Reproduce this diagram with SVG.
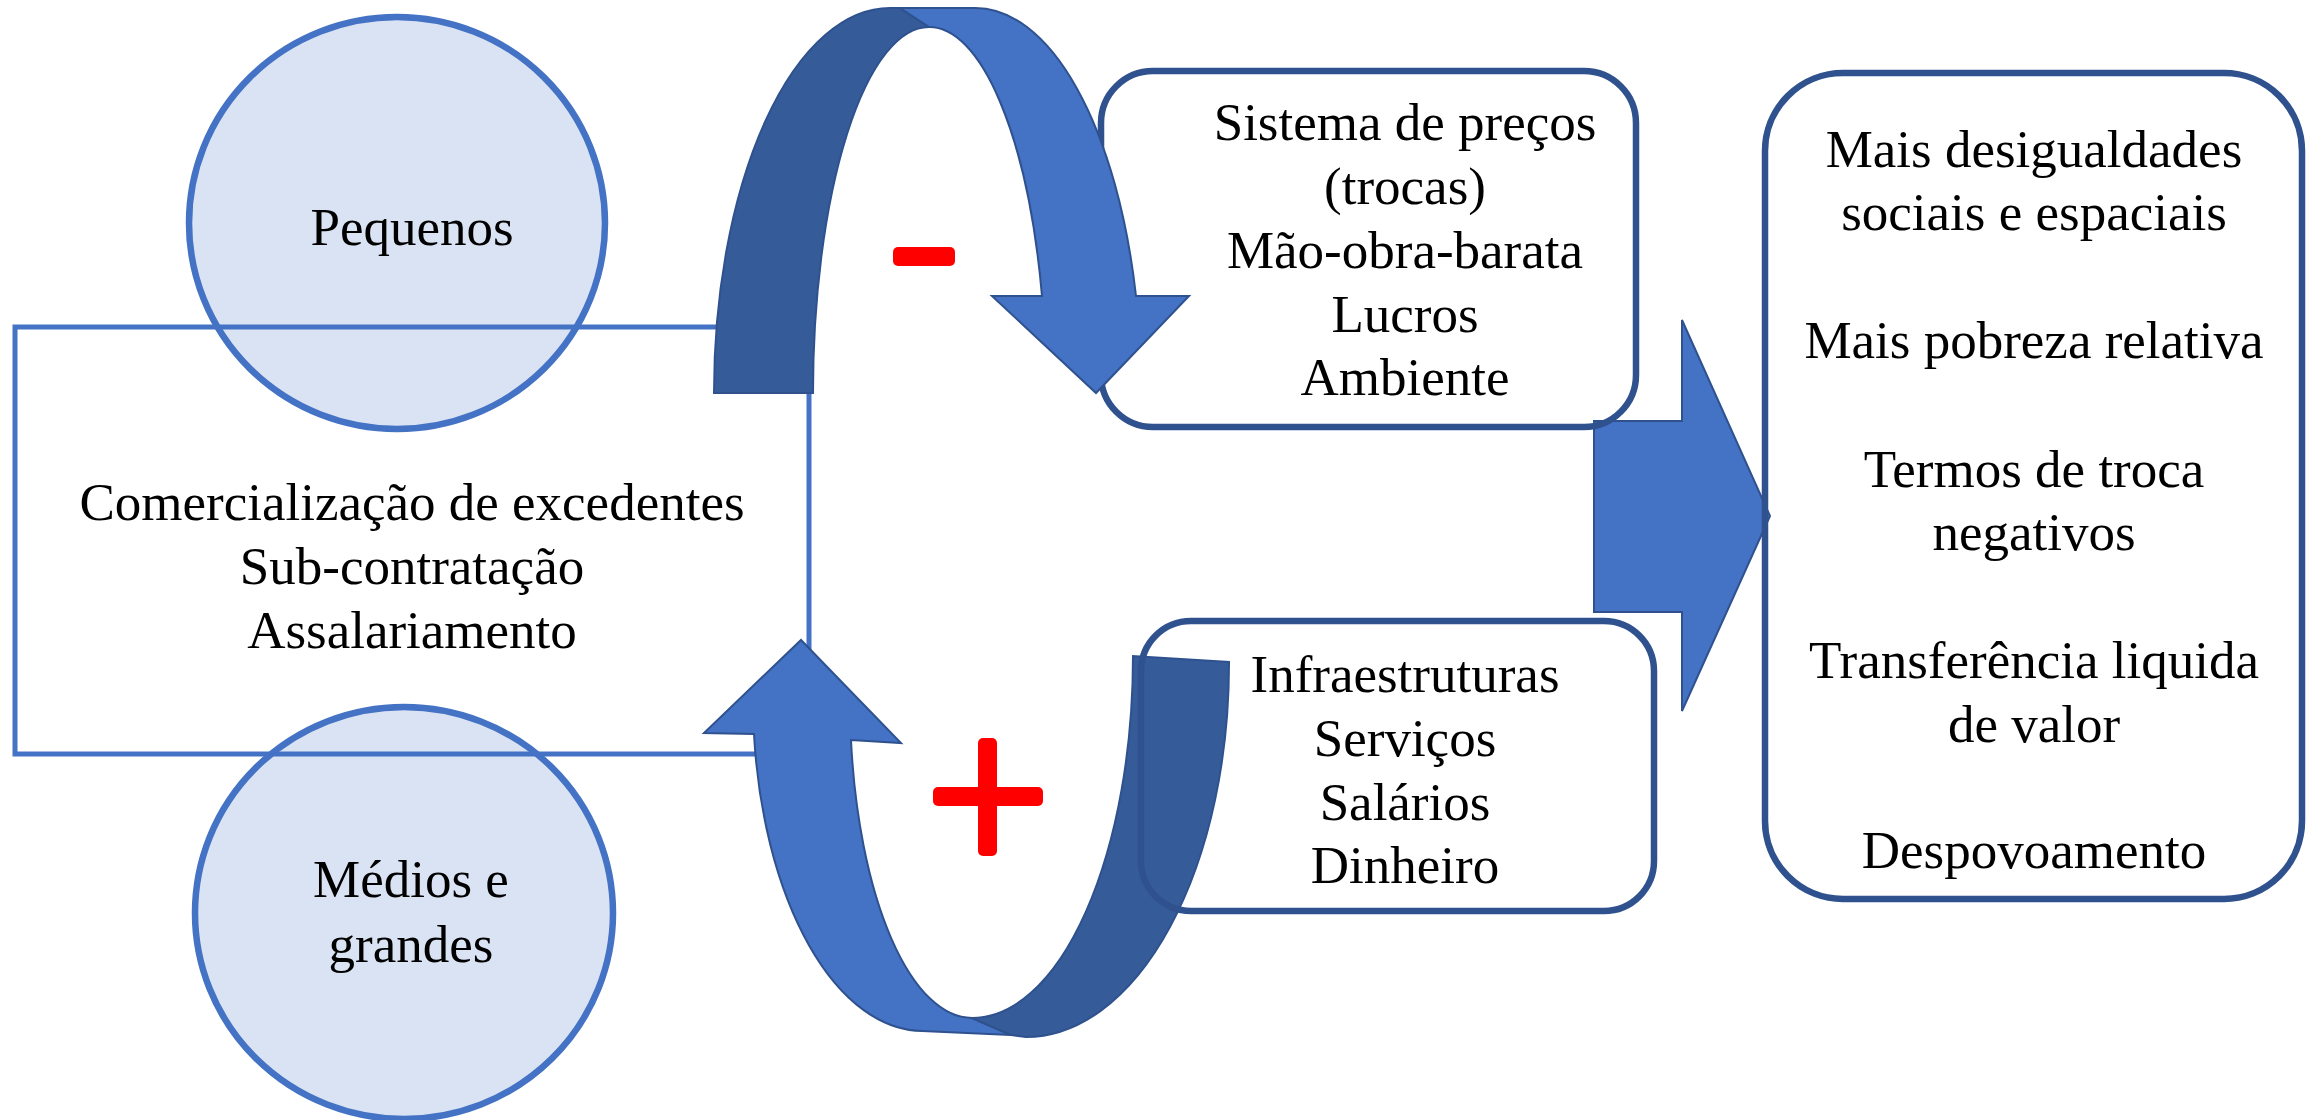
<svg xmlns="http://www.w3.org/2000/svg" width="2318" height="1120" viewBox="0 0 2318 1120">
<style>
  .txt { font-family: "Liberation Serif", "Times New Roman", serif; font-size: 53px; fill: #000; text-anchor: middle; }
  .circ { fill: #DAE3F3; stroke: #4472C4; stroke-width: 6.5; }
  .rbox { fill: none; stroke: #2F528F; stroke-width: 6.5; }
  .light { fill: #4472C4; stroke: #2F528F; stroke-width: 2; stroke-linejoin: miter; }
  .dark { fill: #355B99; stroke: #2F528F; stroke-width: 2; }
  .sign { fill: #FF0000; }
</style>
<rect width="2318" height="1120" fill="#FFFFFF"/>

<g id="pequenos">
  <ellipse class="circ" cx="397" cy="223" rx="208" ry="206"/>
  <text class="txt" x="412" y="245">Pequenos</text>
</g>

<g id="medios-grandes">
  <ellipse class="circ" cx="404" cy="913" rx="209" ry="206"/>
  <text class="txt" x="411" y="897">Médios e</text>
  <text class="txt" x="411" y="962">grandes</text>
</g>

<g id="comercializacao">
  <rect x="15" y="327" width="794" height="427" fill="none" stroke="#4472C4" stroke-width="5"/>
  <text class="txt" x="412" y="520">Comercialização de excedentes</text>
  <text class="txt" x="412" y="584">Sub-contratação</text>
  <text class="txt" x="412" y="648">Assalariamento</text>
</g>

<g id="connectors">
  <path id="big-arrow" class="light" d="M1594,421 L1682,421 L1682,320 L1770,516 L1682,711 L1682,612 L1594,612 Z"/>
</g>

<g id="sistema-precos">
  <rect class="rbox" x="1101" y="71" width="535" height="356" rx="52" ry="52"/>
  <text class="txt" x="1405" y="140">Sistema de preços</text>
  <text class="txt" x="1405" y="204">(trocas)</text>
  <text class="txt" x="1405" y="268">Mão-obra-barata</text>
  <text class="txt" x="1405" y="332">Lucros</text>
  <text class="txt" x="1405" y="395">Ambiente</text>
</g>

<g id="connectors-curved">
  <g id="arrow-top">
    <path class="dark" d="M714,393 A176,385 0 0 1 890,8 L900,8 L929,27 A116,366 0 0 0 813,393 Z"/>
    <path class="light" d="M900,8 L975,8 A166,385 0 0 1 1136,296 L1189,296 L1096,393 L992,296 L1042,296 A117,366 0 0 0 929,27 Z"/>
  </g>
  <g id="arrow-bottom">
    <path class="light" d="M754,734 A170,332 0 0 0 922,1031 L1011,1035 L972,1018 A122,318 0 0 1 851,740 L901,743 L801,640 L704,733 Z"/>
    <path class="dark" d="M1011,1035 L1026,1037 A203,373 0 0 0 1229,662 L1133,656 A161,362 0 0 1 972,1018 Z"/>
  </g>
</g>

<g id="infraestruturas">
  <rect class="rbox" x="1141" y="621" width="513" height="290" rx="50" ry="50"/>
  <text class="txt" x="1405" y="692">Infraestruturas</text>
  <text class="txt" x="1405" y="756">Serviços</text>
  <text class="txt" x="1405" y="820">Salários</text>
  <text class="txt" x="1405" y="883">Dinheiro</text>
</g>

<g id="consequencias">
  <rect class="rbox" x="1765" y="73" width="537" height="826" rx="78" ry="78"/>
  <text class="txt" x="2034" y="167">Mais desigualdades</text>
  <text class="txt" x="2034" y="230">sociais e espaciais</text>
  <text class="txt" x="2034" y="358">Mais pobreza relativa</text>
  <text class="txt" x="2034" y="487">Termos de troca</text>
  <text class="txt" x="2034" y="550">negativos</text>
  <text class="txt" x="2034" y="678">Transferência liquida</text>
  <text class="txt" x="2034" y="742">de valor</text>
  <text class="txt" x="2034" y="868">Despovoamento</text>
</g>

<g id="sign-minus">
  <rect class="sign" x="893" y="247" width="62" height="19" rx="5" ry="5"/>
</g>
<g id="sign-plus">
  <rect class="sign" x="933" y="787" width="110" height="19" rx="5" ry="5"/>
  <rect class="sign" x="978" y="738" width="19" height="118" rx="5" ry="5"/>
</g>
</svg>
